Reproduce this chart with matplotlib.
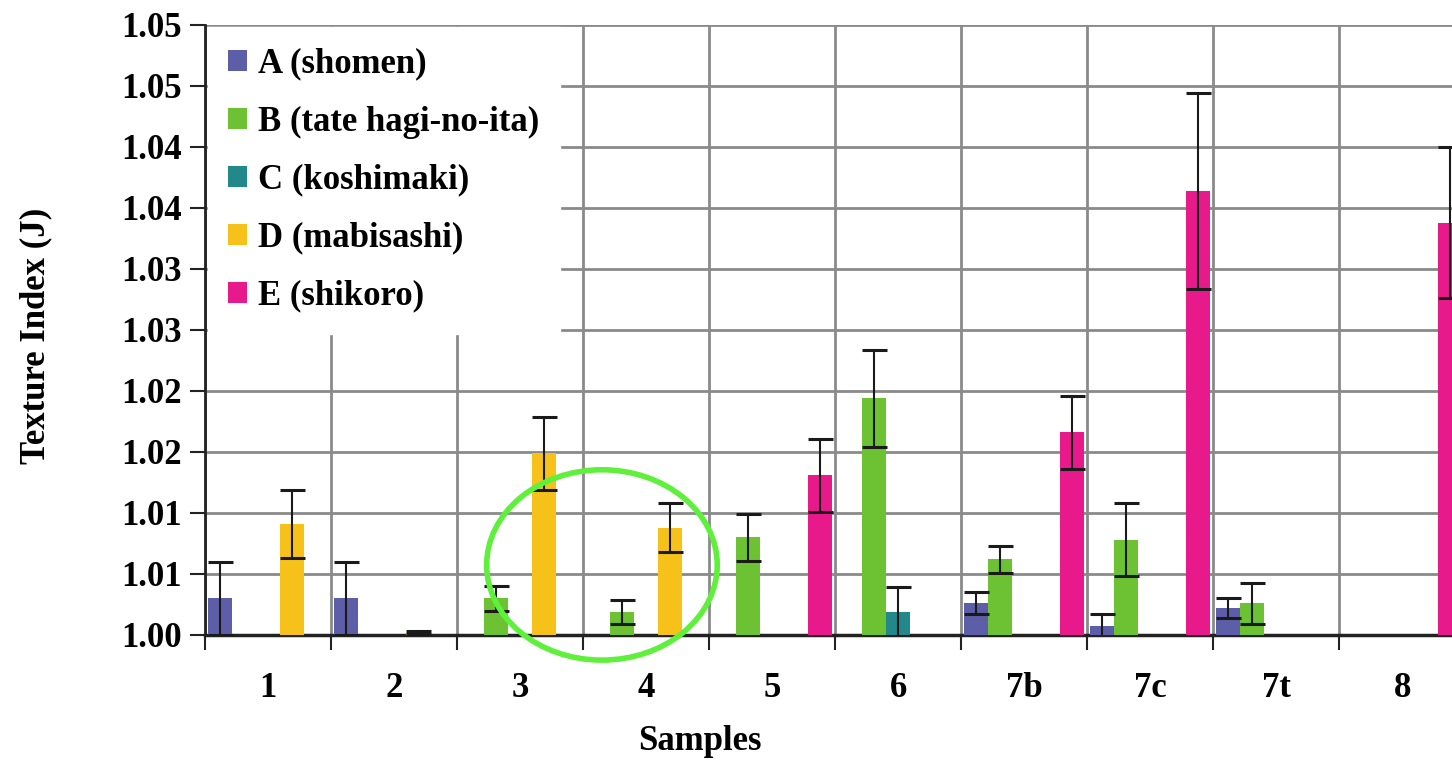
import matplotlib
matplotlib.use("Agg")
import matplotlib.pyplot as plt
from matplotlib.patches import Ellipse
import numpy as np

# data
samples = ["1", "2", "3", "4", "5", "6", "7b", "7c", "7t", "8"]
series = ["A (shomen)", "B (tate hagi-no-ita)", "C (koshimaki)", "D (mabisashi)", "E (shikoro)"]
colors = ["#5d5ea8", "#6cc232", "#22888a", "#f6c21a", "#e8198a"]

# nan = no bar
A = [1.0030, 1.0030, np.nan, np.nan, np.nan, np.nan, 1.0026, 1.0007, 1.0022, np.nan]
B = [np.nan, np.nan, 1.0030, 1.0019, 1.0080, 1.0194, 1.0062, 1.0078, 1.0026, np.nan]
C = [np.nan, np.nan, np.nan, np.nan, np.nan, 1.0019, np.nan, np.nan, np.nan, np.nan]
D = [1.0091, 1.0002, 1.0149, 1.0088, np.nan, np.nan, np.nan, np.nan, np.nan, np.nan]
E = [np.nan, np.nan, np.nan, np.nan, 1.0131, np.nan, 1.0166, 1.0364, np.nan, 1.0338]

A_err = [0.0030, 0.0030, 0, 0, 0, 0, 0.0009, 0.0010, 0.0008, 0]
B_err = [0, 0, 0.0010, 0.0010, 0.0019, 0.0040, 0.0011, 0.0030, 0.0017, 0]
C_err = [0, 0, 0, 0, 0, 0.0020, 0, 0, 0, 0]
D_err = [0.0028, 0.0001, 0.0030, 0.0020, 0, 0, 0, 0, 0, 0]
E_err = [0, 0, 0, 0, 0.0030, 0, 0.0030, 0.0080, 0, 0.0062]

yticks = [1.000, 1.005, 1.010, 1.015, 1.020, 1.025, 1.030, 1.035, 1.040, 1.045, 1.050]
ytick_labels = ["1.00", "1.01", "1.01", "1.02", "1.02", "1.03", "1.03", "1.04", "1.04", "1.05", "1.05"]

plt.rcParams["font.family"] = ["Liberation Serif", "DejaVu Serif"]
plt.rcParams["font.weight"] = "bold"
plt.rcParams["axes.labelweight"] = "bold"

fig = plt.figure(figsize=(14.52, 7.62), dpi=100)
ax = fig.add_axes([0.1412, 0.1667, 0.8678, 0.8005])

x = np.arange(len(samples))
w = 0.19
vals = [A, B, C, D, E]
errs = [A_err, B_err, C_err, D_err, E_err]
for i in range(5):
    v = np.array(vals[i])
    e = np.array(errs[i])
    pos = x + (i - 2) * w
    ax.bar(pos, v - 1.0, bottom=1.0, width=w, color=colors[i], label=series[i], zorder=3)
    m = ~np.isnan(v) & (e > 0)
    ax.errorbar(pos[m], v[m], yerr=e[m], fmt="none", ecolor="#1a1a1a",
                elinewidth=1.5, capsize=9, capthick=2.2, zorder=4)

ax.set_xlim(-0.5, len(samples) - 0.5)
ax.set_ylim(1.0, 1.05)
ax.set_yticks(yticks)
ax.set_yticklabels(ytick_labels)
ax.set_xticks(x)
ax.set_xticklabels(samples)
ax.set_xticks(np.arange(-0.5, len(samples), 1.0), minor=True)

ax.tick_params(axis="x", which="major", length=0, labelsize=25, pad=27)
ax.tick_params(axis="x", which="minor", length=11, width=1.5, direction="out", color="#222222")
ax.tick_params(axis="y", length=11, width=1.5, direction="out", labelsize=25, pad=6, color="#222222")

ax.grid(True, axis="y", color="#8a8a8a", linewidth=2, zorder=0)
ax.grid(True, axis="x", which="minor", color="#8a8a8a", linewidth=2, zorder=0)
ax.grid(False, axis="x", which="major")
ax.set_axisbelow(True)

for s in ["top", "right"]:
    ax.spines[s].set_visible(False)
ax.spines["left"].set_linewidth(2)
ax.spines["bottom"].set_linewidth(2.5)
ax.spines["left"].set_color("#222222")
ax.spines["bottom"].set_color("#222222")

ax.set_ylabel("Texture Index (J)", fontsize=25)
ax.set_xlabel("Samples", fontsize=25)
ax.yaxis.set_label_coords(-0.121, 0.49)
ax.xaxis.set_label_coords(0.393, -0.148)

leg = ax.legend(loc="upper left", bbox_to_anchor=(0.002, 0.997), fontsize=25, frameon=True,
                fancybox=False, edgecolor="white", framealpha=1.0, borderpad=0.6,
                handlelength=0.55, handleheight=0.55, handletextpad=0.3, labelspacing=0.72,
                borderaxespad=0)
leg.set_zorder(5)

# green circle annotation around samples 3-4
ell = Ellipse((2.65, 1.00574), 1.83, 0.0156, fill=False, edgecolor="#5ef03a",
              linewidth=4, zorder=6, clip_on=False)
ax.add_patch(ell)

plt.savefig("out.png", dpi=100)
